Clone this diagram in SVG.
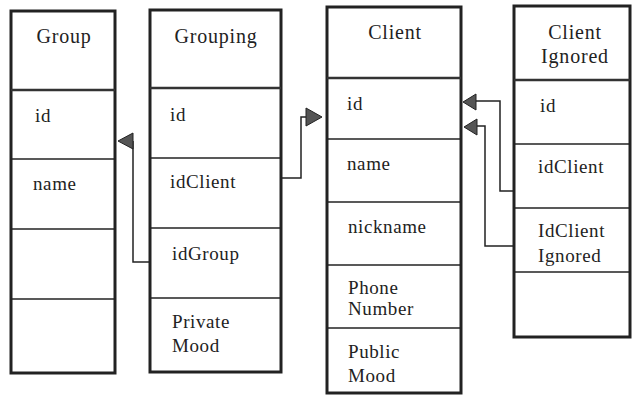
<svg xmlns="http://www.w3.org/2000/svg" width="633" height="399" viewBox="0 0 633 399">
<style>
.outer{fill:#fff;stroke:#222;stroke-width:3}
.hdr{stroke:#333;stroke-width:2.5}
.row{stroke:#222;stroke-width:1.5}
.title{font-family:"Liberation Serif","Times New Roman",serif;font-size:20px;letter-spacing:0.8px;fill:#222;text-anchor:middle}
.field{font-family:"Liberation Serif","Times New Roman",serif;font-size:19px;letter-spacing:0.6px;fill:#222}
.conn{fill:none;stroke:#222;stroke-width:1.5}
.head{fill:#555;stroke:#222;stroke-width:1}
</style>
<rect width="633" height="399" fill="#fff"/>
<g id="group">
<rect class="outer" x="11" y="11" width="104" height="362"/>
<line class="hdr" x1="11" y1="90" x2="115" y2="90"/>
<line class="row" x1="11" y1="159" x2="115" y2="159"/>
<line class="row" x1="11" y1="229" x2="115" y2="229"/>
<line class="row" x1="11" y1="299" x2="115" y2="299"/>
<text class="title" x="64" y="43">Group</text>
<text class="field" x="35" y="122">id</text>
<text class="field" x="33" y="190">name</text>
</g>
<g id="grouping">
<rect class="outer" x="150" y="10" width="131" height="362"/>
<line class="hdr" x1="150" y1="88" x2="281" y2="88"/>
<line class="row" x1="150" y1="158" x2="281" y2="158"/>
<line class="row" x1="150" y1="228" x2="281" y2="228"/>
<line class="row" x1="150" y1="298" x2="281" y2="298"/>
<text class="title" x="216" y="43">Grouping</text>
<text class="field" x="170" y="121">id</text>
<text class="field" x="170" y="188">idClient</text>
<text class="field" x="172" y="260">idGroup</text>
<text class="field" x="172" y="328">Private</text>
<text class="field" x="172" y="352">Mood</text>
</g>
<g id="client">
<rect class="outer" x="327" y="7" width="134" height="386"/>
<line class="hdr" x1="327" y1="78" x2="461" y2="78"/>
<line class="row" x1="327" y1="139" x2="461" y2="139"/>
<line class="row" x1="327" y1="202" x2="461" y2="202"/>
<line class="row" x1="327" y1="265" x2="461" y2="265"/>
<line class="row" x1="327" y1="328" x2="461" y2="328"/>
<text class="title" x="395" y="39">Client</text>
<text class="field" x="347" y="110">id</text>
<text class="field" x="347" y="170">name</text>
<text class="field" x="348" y="233">nickname</text>
<text class="field" x="348" y="294">Phone</text>
<text class="field" x="348" y="315">Number</text>
<text class="field" x="348" y="358">Public</text>
<text class="field" x="348" y="382">Mood</text>
</g>
<g id="client-ignored">
<rect class="outer" x="514" y="6" width="116" height="331"/>
<line class="hdr" x1="514" y1="80" x2="630" y2="80"/>
<line class="row" x1="514" y1="144" x2="630" y2="144"/>
<line class="row" x1="514" y1="208" x2="630" y2="208"/>
<line class="row" x1="514" y1="272" x2="630" y2="272"/>
<text class="title" x="575" y="39">Client</text>
<text class="title" x="575" y="63">Ignored</text>
<text class="field" x="540" y="112">id</text>
<text class="field" x="538" y="173">idClient</text>
<text class="field" x="538" y="237">IdClient</text>
<text class="field" x="538" y="262">Ignored</text>
</g>
<g id="connectors">
<path class="conn" d="M150,262 H133 V141"/>
<polygon class="head" points="118,141 133,133 133,149"/>
<path class="conn" d="M281,178 H301 V117 H306"/>
<polygon class="head" points="322,117 306,108 306,126"/>
<path class="conn" d="M514,191 H500 V101 H475"/>
<polygon class="head" points="463,102 476,94 476,110"/>
<path class="conn" d="M514,246 H485 V126 H476"/>
<polygon class="head" points="464,127 477,119 477,135"/>
</g>
</svg>
